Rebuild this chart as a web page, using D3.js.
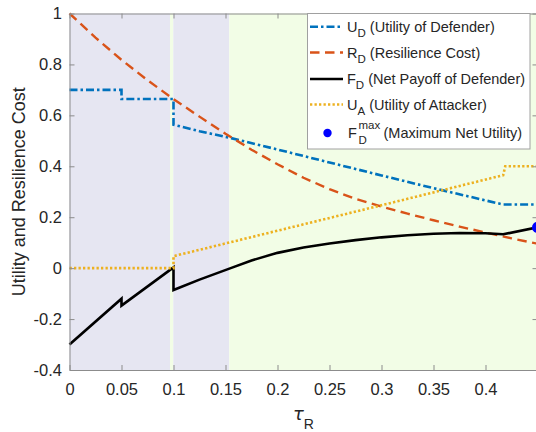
<!DOCTYPE html>
<html><head><meta charset="utf-8">
<script src="https://cdn.jsdelivr.net/npm/d3@7"></script>
<style>
html,body{margin:0;padding:0;background:#fff;}
svg{display:block;font-family:"Liberation Sans",Arial,sans-serif;}
</style></head>
<body><svg id="chart" width="536" height="432"></svg>
<script>
// ---- data ----
const regionStart = [0, 0.0966, 0.0998, 0.1536];
const regionEnd   = [0.0966, 0.0998, 0.1536, 0.45];
const regionKind  = ["low", "high", "low", "high"];

const tauUD = [0, 0.05, 0.05, 0.1, 0.1, 0.125, 0.155, 0.2, 0.25, 0.3, 0.35, 0.4, 0.417, 0.45];
const UD    = [0.7, 0.7, 0.664, 0.664, 0.563, 0.538, 0.511, 0.466, 0.415, 0.364, 0.314, 0.266, 0.25, 0.25];

const tauRD = [0, 0.025, 0.05, 0.075, 0.1, 0.125, 0.15, 0.175, 0.2, 0.225, 0.25, 0.275, 0.3, 0.325, 0.35, 0.375, 0.4, 0.425, 0.45];
const RD    = [1.0, 0.905, 0.818, 0.738, 0.664, 0.595, 0.528, 0.465, 0.408, 0.355, 0.31, 0.272, 0.242, 0.214, 0.188, 0.163, 0.14, 0.117, 0.096];

const tauFD = [0, 0.05, 0.05, 0.1, 0.1, 0.125, 0.155, 0.175, 0.2, 0.225, 0.25, 0.275, 0.3, 0.325, 0.35, 0.375, 0.4, 0.417, 0.45];
const FD    = [-0.3, -0.12, -0.147, 0.003, -0.086, -0.045, 0.0, 0.03, 0.06, 0.081, 0.097, 0.11, 0.121, 0.129, 0.135, 0.138, 0.137, 0.133, 0.16];

const tauUA = [0, 0.1, 0.1, 0.2, 0.3, 0.417, 0.419, 0.45];
const UA    = [0, 0, 0.047, 0.147, 0.247, 0.365, 0.4, 0.4];

const maxTau = [0.45];
const maxVal = [0.16];

const xTicks = [0, 0.05, 0.1, 0.15, 0.2, 0.25, 0.3, 0.35, 0.4];
const xTickLabels = ["0", "0.05", "0.1", "0.15", "0.2", "0.25", "0.3", "0.35", "0.4"];
const yTicks = [-0.4, -0.2, 0, 0.2, 0.4, 0.6, 0.8, 1];
const yTickLabels = ["-0.4", "-0.2", "0", "0.2", "0.4", "0.6", "0.8", "1"];

const legendMain = ["U", "R", "F", "U"];
const legendSub  = ["D", "D", "D", "A"];
const legendText = ["(Utility of Defender)", "(Resilience Cost)", "(Net Payoff of Defender)", "(Utility of Attacker)"];

// ---- styles ----
const colLow = "#e6e6f2", colHigh = "#f2fde6";
const axisCol = "#8c8c8c", textCol = "#262626";
const series = [
  {t: tauUD, v: UD, color: "#0072BD", dash: "8,3,2.5,3", w: 2.6},
  {t: tauRD, v: RD, color: "#D95319", dash: "9.5,5.5", w: 2.4},
  {t: tauFD, v: FD, color: "#000000", dash: null, w: 2.6},
  {t: tauUA, v: UA, color: "#EDB120", dash: "2.3,2.2", w: 2.6}
];

const svg = d3.select("#chart");
const L = 69.5, R = 537.5, T = 13.5, B = 370;
const x = d3.scaleLinear().domain([0, 0.45]).range([L, R]);
const y = d3.scaleLinear().domain([-0.4, 1]).range([B, T]);

// regions
svg.append("g").selectAll("rect").data(regionStart).join("rect")
  .attr("x", (d) => x(d))
  .attr("width", (d, i) => x(regionEnd[i]) - x(d))
  .attr("y", T).attr("height", B - T)
  .attr("fill", (d, i) => regionKind[i] === "low" ? colLow : colHigh);

// lines
const line = d3.line().x(d => x(d[0])).y(d => y(d[1]));
series.forEach(s => {
  const pts = s.t.map((t, i) => [t, s.v[i]]);
  svg.append("path").datum(pts)
    .attr("d", line).attr("fill", "none")
    .attr("stroke", s.color).attr("stroke-width", s.w)
    .attr("stroke-dasharray", s.dash)
    .attr("stroke-linejoin", "miter");
});

// max point
svg.append("g").selectAll("circle").data(maxTau).join("circle")
  .attr("cx", d => x(d)).attr("cy", (d, i) => y(maxVal[i])).attr("r", 5.5)
  .attr("fill", "#0000ff");

// axes
function styleAxis(g) {
  g.select(".domain").attr("stroke", axisCol).attr("stroke-width", 1);
  g.selectAll(".tick line").attr("stroke", axisCol).attr("stroke-width", 1);
  g.selectAll(".tick text").attr("fill", textCol).attr("font-size", 16.5)
    .attr("font-family", "Liberation Sans, Arial, sans-serif");
}
svg.append("g").attr("transform", `translate(0,${B})`)
  .call(d3.axisBottom(x).tickValues(xTicks).tickFormat((d, i) => xTickLabels[i])
    .tickSizeInner(-5).tickSizeOuter(0).tickPadding(13.5))
  .call(styleAxis);
svg.append("g").attr("transform", `translate(0,${T})`)
  .call(d3.axisTop(x).tickValues(xTicks).tickFormat("")
    .tickSizeInner(-5).tickSizeOuter(0))
  .call(styleAxis);
svg.append("g").attr("transform", `translate(${L},0)`)
  .call(d3.axisLeft(y).tickValues(yTicks).tickFormat((d, i) => yTickLabels[i])
    .tickSizeInner(-5).tickSizeOuter(0).tickPadding(7.5))
  .call(styleAxis);
svg.append("g").attr("transform", `translate(${R},0)`)
  .call(d3.axisRight(y).tickValues(yTicks).tickFormat("")
    .tickSizeInner(-5).tickSizeOuter(0))
  .call(styleAxis);

// axis labels
svg.append("text")
  .attr("transform", `translate(25,${(T + B) / 2}) rotate(-90)`)
  .attr("text-anchor", "middle").attr("font-size", 18).attr("fill", textCol)
  .text("Utility and Resilience Cost");
const xl = svg.append("text").attr("x", 303.5).attr("y", 420)
  .attr("text-anchor", "middle").attr("fill", textCol);
xl.append("tspan").attr("font-size", 18).attr("font-family", "DejaVu Sans").attr("font-style", "italic").text("τ");
xl.append("tspan").attr("font-size", 14).attr("dy", 9).text("R");

// legend
const lg = svg.append("g");
lg.append("rect").attr("x", 307.5).attr("y", 13.5).attr("width", 222.5).attr("height", 135.5)
  .attr("fill", "#ffffff").attr("stroke", "#a0a0a0").attr("stroke-width", 1);
const rowY = [26.7, 52.5, 79, 104.5];
series.forEach((s, i) => {
  lg.append("line").attr("x1", 310).attr("x2", 343).attr("y1", rowY[i]).attr("y2", rowY[i])
    .attr("stroke", s.color).attr("stroke-width", s.w).attr("stroke-dasharray", s.dash);
  const t = lg.append("text").attr("x", 347).attr("y", rowY[i] + 5).attr("fill", textCol).attr("font-size", 14.5);
  t.append("tspan").text(legendMain[i]);
  t.append("tspan").attr("font-size", 11.5).attr("dy", 5).text(legendSub[i]);
  t.append("tspan").attr("dy", -5).text(" " + legendText[i]);
});
lg.append("circle").attr("cx", 327.5).attr("cy", 133).attr("r", 4.2).attr("fill", "#0000ff");
lg.append("text").attr("x", 348).attr("y", 138).attr("fill", textCol).attr("font-size", 14.5).text("F");
lg.append("text").attr("x", 358.5).attr("y", 129).attr("fill", textCol).attr("font-size", 11.5).text("max");
lg.append("text").attr("x", 358.5).attr("y", 144).attr("fill", textCol).attr("font-size", 11.5).text("D");
lg.append("text").attr("x", 383.5).attr("y", 138).attr("fill", textCol).attr("font-size", 14.5).text("(Maximum Net Utility)");
</script></body></html>
